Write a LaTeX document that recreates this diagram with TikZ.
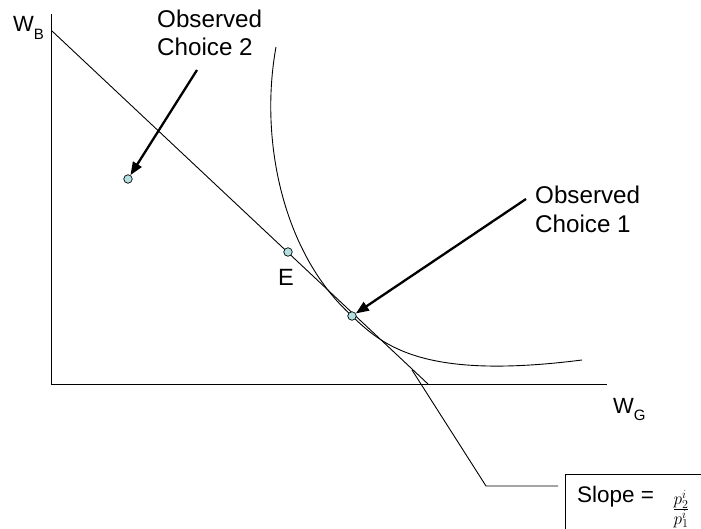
\documentclass[tikz,border=0pt]{standalone}
\usepackage{fontspec}
\setmainfont{Liberation Sans}
\usetikzlibrary{arrows.meta}
\definecolor{dotfill}{RGB}{178,224,226}
\begin{document}
\begin{tikzpicture}[x=1pt,y=-1pt,
  axis/.style={line width=1pt},
  thinline/.style={line width=0.9pt},
  dot/.style={circle,draw,line width=0.7pt,fill=dotfill,minimum size=8.5pt,inner sep=0pt},
  lab/.style={font=\fontsize{24.2}{29}\selectfont,inner sep=0pt,align=left,anchor=base west},
  axlab/.style={font=\fontsize{22}{26}\selectfont,inner sep=0pt,anchor=base west},
  pointer/.style={line width=2.3pt,-{Triangle[length=13pt,width=10pt]}}]
\useasboundingbox (0,0) rectangle (701,529);
% axes
\coordinate (ytop) at (51,14);
\coordinate (orig) at (51,384);
\coordinate (xend) at (607,384);
\draw[axis] (ytop) -- (orig) -- (xend);
\node[axlab] (wb) at (13,32) {W\raisebox{-8pt}{\fontsize{15}{15}\selectfont B}};
\node[axlab] (wg) at (613,413) {W\raisebox{-7pt}{\fontsize{15}{15}\selectfont G}};
% budget line
\coordinate (b1) at (52,31);
\coordinate (b2) at (428,384);
\draw[thinline] (b1) -- (b2);
% indifference curve
\coordinate (i0) at (276,47);
\coordinate (tang) at (352,316);
\coordinate (i3) at (582,360);
\draw[thinline] (i0) .. controls (259,140) and (283,254) .. (tang)
  .. controls (384,347) and (425,380) .. (i3);
% points
\node[dot] (c2) at (128,179) {};
\node[dot] (e) at (288,252) {};
\node[dot] (c1) at (352,316) {};
\node[font=\fontsize{23.5}{29}\selectfont,inner sep=0pt,anchor=base west] (elab) at (278,286) {E};
% labels
\node[lab] (l2a) at (157,28) {Observed};
\node[lab] (l2b) at (157,56) {Choice 2};
\node[lab] (l1a) at (535,204) {Observed};
\node[lab] (l1b) at (535,233) {Choice 1};
\coordinate (a2) at (197,70);
\coordinate (a1) at (526,199);
\draw[pointer] (a2) -- (c2);
\draw[pointer] (a1) -- (c1);
% slope callout
\coordinate (s0) at (412,370);
\coordinate (s1) at (486,486);
\coordinate (s2) at (558,486);
\draw[thinline] (s0) -- (s1) -- (s2);
\draw[thinline] (565,540) -- (565,474) -- (710,474);
\node[font=\fontsize{22.5}{26}\selectfont,inner sep=0pt,anchor=base west] (slope) at (577,502) {Slope =};
\node[font=\fontsize{23}{28}\selectfont,inner sep=0pt] (frac) at (681,509) {$\frac{p_2^i}{p_1^i}$};
\end{tikzpicture}
\end{document}
